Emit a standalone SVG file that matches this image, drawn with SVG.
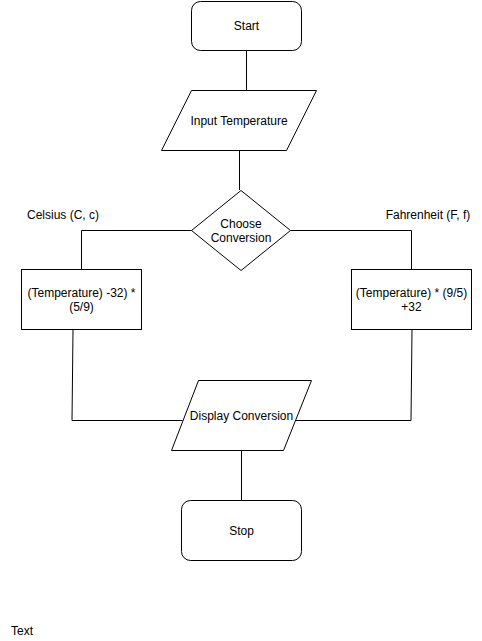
<svg xmlns="http://www.w3.org/2000/svg" width="482" height="641" viewBox="0 0 482 641">
  <style>
    .shape { fill: #ffffff; stroke: #000000; stroke-width: 1; }
    .edge { fill: none; stroke: #000000; stroke-width: 1; }
    text { font-family: "Liberation Sans", Arial, Helvetica, sans-serif; font-size: 12px; fill: #000000; }
    .c { text-anchor: middle; dominant-baseline: central; }
  </style>
  <rect width="482" height="641" fill="#ffffff"/>

  <!-- connectors -->
  <g id="edges">
    <path class="edge" d="M246.5 50 V90"/>
    <path class="edge" d="M239.5 150 V190"/>
    <path class="edge" d="M191.5 230.5 H81.5 V269"/>
    <path class="edge" d="M290.5 230.5 H411.5 V269"/>
    <path class="edge" d="M73 330 L72 420.5 H182.5"/>
    <path class="edge" d="M412 330 L411 420.5 H295.5"/>
    <path class="edge" d="M241.5 450 V500"/>
  </g>

  <g id="start">
    <rect class="shape" x="191.5" y="1.5" width="110" height="49" rx="9" ry="9"/>
    <text class="c" x="246.5" y="25.5">Start</text>
  </g>

  <g id="input">
    <polygon class="shape" points="191.5,90.5 316.5,90.5 286.5,150.5 161.5,150.5"/>
    <text class="c" x="239" y="120.5">Input Temperature</text>
  </g>

  <g id="choose">
    <polygon class="shape" points="241,190.5 290.5,230.5 241,270.5 191.5,230.5"/>
    <text class="c" x="241" y="223.5">Choose</text>
    <text class="c" x="241" y="237.5">Conversion</text>
  </g>

  <g id="label-celsius">
    <text class="c" x="63" y="214.5">Celsius (C, c)</text>
  </g>

  <g id="label-fahrenheit">
    <text class="c" x="428" y="214.5">Fahrenheit (F, f)</text>
  </g>

  <g id="to-fahrenheit">
    <rect class="shape" x="21.5" y="269.5" width="120" height="60"/>
    <text class="c" x="81.5" y="292.5">(Temperature) -32) *</text>
    <text class="c" x="81.5" y="306.5">(5/9)</text>
  </g>

  <g id="to-celsius">
    <rect class="shape" x="351.5" y="269.5" width="120" height="60"/>
    <text class="c" x="411.5" y="292.5">(Temperature) * (9/5)</text>
    <text class="c" x="411.5" y="306.5">+32</text>
  </g>

  <g id="display">
    <polygon class="shape" points="198.5,380.5 311.5,380.5 283.5,450.5 171.5,450.5"/>
    <text class="c" x="241.5" y="415.5">Display Conversion</text>
  </g>

  <g id="stop">
    <rect class="shape" x="181.5" y="500.5" width="120" height="60" rx="9" ry="9"/>
    <text class="c" x="241.5" y="530.5">Stop</text>
  </g>

  <g id="note">
    <text x="11" y="635">Text</text>
  </g>
</svg>
